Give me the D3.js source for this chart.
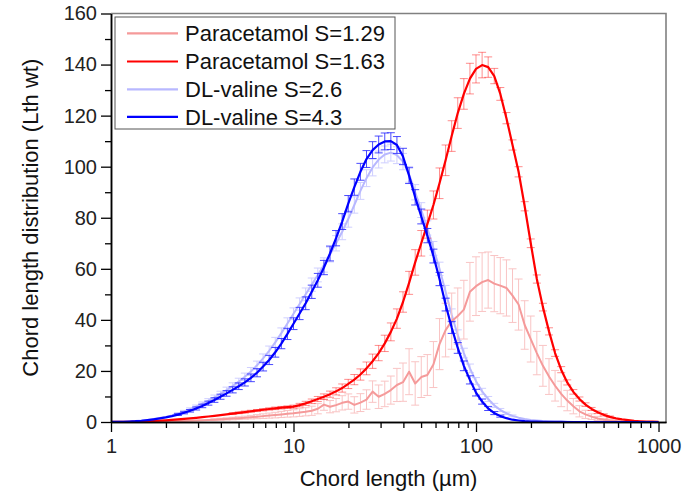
<!DOCTYPE html>
<html>
<head>
<meta charset="utf-8">
<script src="https://cdn.jsdelivr.net/npm/d3@7"></script>
<style>
  html, body { margin: 0; padding: 0; background: #fff; }
  svg { display: block; font-family: "Liberation Sans", Arial, sans-serif; }
</style>
</head>
<body>
<svg id="chart" width="695" height="496"></svg>
<script>
// ---------------- data ----------------
const chordLength = [
  1.000,1.080,1.166,1.259,1.359,1.468,1.585,1.711,1.848,1.995,
  2.154,2.326,2.512,2.712,2.929,3.162,3.415,3.687,3.981,4.299,
  4.642,5.012,5.412,5.843,6.310,6.813,7.356,7.943,8.577,9.261,
  10.00,10.80,11.66,12.59,13.59,14.68,15.85,17.11,18.48,19.95,
  21.54,23.26,25.12,27.12,29.29,31.62,34.15,36.87,39.81,42.99,
  46.42,50.12,54.12,58.43,63.10,68.13,73.56,79.43,85.77,92.61,
  100.0,108.0,116.6,125.9,135.9,146.8,158.5,171.1,184.8,199.5,
  215.4,232.6,251.2,271.2,292.9,316.2,341.5,368.7,398.1,429.9,
  464.2,501.2,541.2,584.3,631.0,681.3,735.6,794.3,857.7,926.1,
  1000
];

const paraS129 = [
  0,0.01,0.02,0.04,0.06,0.09,0.12,0.16,0.2,0.25,
  0.3,0.36,0.43,0.5,0.6,0.7,0.8,0.92,1.05,1.2,
  1.35,1.5,1.7,1.9,2.1,2.3,2.5,2.7,2.95,3.2,
  3.4,3.7,4.0,4.4,5.2,6.8,6.0,6.6,7.5,8.0,
  6.7,7.6,8.8,11.9,9.9,11.0,12.5,14.5,15.6,19.7,
  15.1,17.6,18.4,22.5,30.5,36.0,39.5,41.5,44.0,51.0,
  53.2,54.8,55.6,54.2,53.4,52.5,49.5,46.0,38.0,32.5,
  27.0,22.0,17.8,14.2,11.0,8.4,6.2,4.2,3.0,2.1,
  1.4,0.9,0.55,0.35,0.2,0.12,0.07,0.04,0.02,0.01,
  0
];
const paraS129Err = [
  0,0,0,0,0,0.05,0.05,0.1,0.1,0.1,
  0.15,0.15,0.2,0.2,0.25,0.3,0.3,0.35,0.4,0.45,
  0.5,0.55,0.6,0.7,0.8,0.9,1.0,1.1,1.2,1.3,
  1.4,1.5,1.6,1.8,2.0,2.2,2.4,2.6,2.8,3.0,
  3.2,3.5,3.8,4.2,4.6,5.0,5.5,6.5,7.5,9.0,
  8.5,8.0,8.0,9.0,10.0,10.5,11.0,11.0,11.5,11.5,
  11.5,11.5,11.0,11.0,11.0,11.0,10.5,10.0,9.5,9.0,
  8.5,8.0,7.0,6.0,5.0,4.0,3.0,2.2,1.6,1.1,
  0.8,0.5,0.35,0.25,0.15,0.1,0.05,0.05,0,0,
  0
];

const paraS163 = [
  0.02,0.04,0.07,0.1,0.15,0.22,0.3,0.4,0.52,0.66,
  0.82,1.0,1.2,1.42,1.65,1.9,2.15,2.4,2.7,3.0,
  3.3,3.6,3.9,4.2,4.5,4.8,5.1,5.35,5.6,5.8,
  6.0,6.6,7.3,8.1,9.0,9.9,10.9,12.0,13.3,14.9,
  16.6,18.6,21.0,23.8,27.0,30.8,35.3,40.5,47.0,54.5,
  62.5,70.0,77.5,85.0,93.5,102.5,112.0,121.0,128.5,134.5,
  138.3,139.8,139.0,135.5,128.5,119.0,108.5,98.0,84.5,70.0,
  56.0,45.0,35.5,27.0,20.5,15.5,11.8,9.0,6.8,5.1,
  3.8,2.8,2.0,1.4,1.0,0.7,0.45,0.3,0.2,0.12,
  0.08
];
const paraS163Err = [
  0.05,0.05,0.05,0.05,0.05,0.1,0.1,0.1,0.1,0.15,
  0.15,0.15,0.2,0.2,0.2,0.25,0.25,0.3,0.3,0.3,
  0.35,0.35,0.4,0.4,0.4,0.45,0.45,0.5,0.5,0.5,
  0.6,0.7,0.8,0.9,1.0,1.1,1.2,1.4,1.6,1.8,
  2.0,2.2,2.5,2.8,3.0,3.2,3.5,3.8,4.0,4.5,
  5.0,5.0,5.5,5.5,6.0,6.0,6.0,6.0,6.0,6.0,
  5.5,5.0,4.0,3.0,2.5,2.2,2.0,2.0,1.8,1.7,
  1.6,1.5,1.4,1.3,1.2,1.0,0.9,0.8,0.7,0.6,
  0.5,0.4,0.35,0.3,0.25,0.2,0.15,0.1,0.1,0.1,
  0.1
];

const valineS26 = [
  0.03,0.06,0.12,0.22,0.36,0.55,0.8,1.15,1.55,2.0,
  2.6,3.3,4.1,5.0,6.0,7.1,8.3,9.6,11.0,12.5,
  14.1,15.8,17.7,19.8,22.2,24.9,27.9,31.2,34.8,38.6,
  42.4,46.2,50.0,53.8,57.6,61.5,65.6,70.0,74.5,79.5,
  85.0,90.5,95.5,99.7,102.8,104.8,105.5,104.5,102.0,97.0,
  90.0,83.0,76.0,68.0,60.0,51.0,42.0,34.0,27.0,21.0,
  16.0,12.0,9.0,6.5,4.7,3.4,2.4,1.7,1.2,0.8,
  0.55,0.35,0.22,0.14,0.09,0.05,0.03,0.02,0.01,0,
  0,0,0,0,0,0,0,0,0,0,
  0
];
const valineS26Err = [
  0,0,0,0.05,0.05,0.1,0.1,0.15,0.2,0.25,
  0.3,0.35,0.45,0.55,0.65,0.75,0.85,0.95,1.05,1.15,
  1.25,1.35,1.45,1.55,1.65,1.75,1.85,1.95,2.05,2.2,
  2.3,2.4,2.5,2.6,2.7,2.8,2.9,3.0,3.1,3.2,
  3.2,3.3,3.3,3.3,3.3,3.3,3.3,3.3,3.2,3.1,
  3.0,2.9,2.8,2.7,2.6,2.5,2.3,2.1,1.9,1.7,
  1.4,1.2,1.0,0.8,0.6,0.45,0.35,0.25,0.2,0.15,
  0.1,0.05,0.05,0,0,0,0,0,0,0,
  0,0,0,0,0,0,0,0,0,0,
  0
];

const valineS43 = [
  0.02,0.05,0.1,0.2,0.32,0.5,0.75,1.05,1.4,1.8,
  2.3,2.9,3.6,4.4,5.3,6.3,7.4,8.6,9.9,11.2,
  12.6,14.0,15.5,17.3,19.3,21.7,24.3,27.3,30.7,34.5,
  38.5,42.5,46.5,51.0,55.5,60.5,66.0,72.0,78.5,85.5,
  92.0,98.0,103.0,106.5,108.7,109.9,110.0,108.5,104.0,96.5,
  88.0,80.5,73.0,65.0,56.0,46.0,37.0,29.0,22.0,16.5,
  11.5,8.0,5.3,3.5,2.3,1.5,0.9,0.6,0.35,0.2,
  0.12,0.07,0.04,0.02,0.01,0,0,0,0,0,
  0,0,0,0,0,0,0,0,0,0,
  0
];
const valineS43Err = [
  0,0,0,0.05,0.05,0.1,0.1,0.15,0.2,0.25,
  0.3,0.35,0.4,0.5,0.6,0.7,0.8,0.9,1.0,1.1,
  1.2,1.3,1.4,1.5,1.6,1.7,1.8,1.9,2.0,2.2,
  2.3,2.4,2.5,2.6,2.7,2.8,2.9,3.0,3.1,3.2,
  3.2,3.3,3.3,3.3,3.3,3.3,3.3,3.3,3.2,3.1,
  3.0,2.9,2.8,2.7,2.6,2.5,2.3,2.1,1.9,1.6,
  1.3,1.0,0.8,0.6,0.4,0.3,0.2,0.15,0.1,0.05,
  0.05,0,0,0,0,0,0,0,0,0,
  0,0,0,0,0,0,0,0,0,0,
  0
];

const seriesNames = ["Paracetamol S=1.29", "Paracetamol S=1.63", "DL-valine S=2.6", "DL-valine S=4.3"];
const xMajorTicks = [1, 10, 100, 1000];
const xMinorTicks = [2,3,4,5,6,7,8,9,20,30,40,50,60,70,80,90,200,300,400,500,600,700,800,900];
const yMajorTicks = [0, 20, 40, 60, 80, 100, 120, 140, 160];
const yMinorTicks = [10, 30, 50, 70, 90, 110, 130, 150];
const xTitle = "Chord length (µm)";
const yTitle = "Chord length distribution (Lth wt)";

// ---------------- chart ----------------
const svg = d3.select("#chart");
const L = 111, R = 666, T = 13.5, B = 422;

const x = d3.scaleLog().domain([1, 1099]).range([L, R]);
const y = d3.scaleLinear().domain([0, 160]).range([B, T]);

const series = [
  { name: seriesNames[0], values: paraS129, errors: paraS129Err, line: "#f59a9a", bar: "#f9c4c4", barOp: 1, lw: 2 },
  { name: seriesNames[1], values: paraS163, errors: paraS163Err, line: "#ff0000", bar: "#ff0000", barOp: 0.45, lw: 2.2 },
  { name: seriesNames[2], values: valineS26, errors: valineS26Err, line: "#b8b8ff", bar: "#cfcfff", barOp: 1, lw: 2 },
  { name: seriesNames[3], values: valineS43, errors: valineS43Err, line: "#0000ff", bar: "#2a2aff", barOp: 0.85, lw: 2.2 }
];
const drawOrder = [2, 0, 1, 3];

const plot = svg.append("g");
const capW = 4;

drawOrder.forEach(si => {
  const s = series[si];
  const pts = chordLength.map((c, i) => ({ c, v: s.values[i], e: s.errors[i] }));
  const gBar = plot.append("g")
    .attr("stroke", s.bar)
    .attr("stroke-opacity", s.barOp)
    .attr("stroke-width", 1)
    .attr("fill", "none");
  pts.filter(p => p.e > 0.3).forEach(p => {
    const cx = x(p.c);
    const y1 = y(p.v + p.e), y0 = y(p.v - p.e);
    gBar.append("line").attr("x1", cx).attr("x2", cx).attr("y1", y1).attr("y2", y0);
    gBar.append("line").attr("x1", cx - capW).attr("x2", cx + capW).attr("y1", y1).attr("y2", y1);
    gBar.append("line").attr("x1", cx - capW).attr("x2", cx + capW).attr("y1", y0).attr("y2", y0);
  });
  const line = d3.line().x(p => x(p.c)).y(p => y(p.v));
  plot.append("path")
    .datum(pts)
    .attr("d", line)
    .attr("fill", "none")
    .attr("stroke", s.line)
    .attr("stroke-width", s.lw)
    .attr("stroke-linejoin", "round");
});

// frame (top/right)
svg.append("path")
  .attr("d", `M${L},${T}H${R}V${B}`)
  .attr("fill", "none")
  .attr("stroke", "#808080")
  .attr("stroke-width", 1.6);

// axes
function styleAxis(g) {
  g.selectAll("path.domain").attr("stroke", "#000").attr("stroke-width", 1.5);
  g.selectAll(".tick line").attr("stroke", "#000").attr("stroke-width", 1.3);
  g.selectAll(".tick text").attr("fill", "#222").style("font-size", "20px")
    .style("font-family", '"Liberation Sans", Arial, sans-serif');
}

const gxMinor = svg.append("g").attr("transform", `translate(0,${B})`)
  .call(d3.axisBottom(x).tickValues(xMinorTicks).tickSize(6).tickSizeOuter(0).tickFormat(""));
styleAxis(gxMinor);
const gx = svg.append("g").attr("transform", `translate(0,${B})`)
  .call(d3.axisBottom(x).tickValues(xMajorTicks).tickSize(10).tickSizeOuter(0).tickPadding(7).tickFormat(d3.format("d")));
styleAxis(gx);

const gyMinor = svg.append("g").attr("transform", `translate(${L},0)`)
  .call(d3.axisLeft(y).tickValues(yMinorTicks).tickSize(6).tickSizeOuter(0).tickFormat(""));
styleAxis(gyMinor);
const gy = svg.append("g").attr("transform", `translate(${L},0)`)
  .call(d3.axisLeft(y).tickValues(yMajorTicks).tickSize(10).tickSizeOuter(0).tickPadding(4));
styleAxis(gy);

// axis titles
svg.append("text")
  .attr("x", (L + R) / 2).attr("y", 486)
  .attr("text-anchor", "middle")
  .style("font-size", "22px").attr("fill", "#111")
  .text(xTitle);
svg.append("text")
  .attr("transform", `translate(38,${(T + B) / 2}) rotate(-90)`)
  .attr("text-anchor", "middle")
  .style("font-size", "22px").attr("fill", "#111")
  .text(yTitle);

// legend
const leg = svg.append("g");
leg.append("rect")
  .attr("x", 115).attr("y", 17).attr("width", 280).attr("height", 112)
  .attr("fill", "#fff").attr("stroke", "#555").attr("stroke-width", 1);
const rowY = [33.3, 61.5, 89.3, 116.8];
series.forEach((s, i) => {
  leg.append("line")
    .attr("x1", 127).attr("x2", 178).attr("y1", rowY[i]).attr("y2", rowY[i])
    .attr("stroke", s.line).attr("stroke-width", 2.2);
  leg.append("text")
    .attr("x", 185).attr("y", rowY[i]).attr("dy", "0.36em")
    .style("font-size", "22px").attr("fill", "#111")
    .text(s.name);
});
</script>
</body>
</html>
